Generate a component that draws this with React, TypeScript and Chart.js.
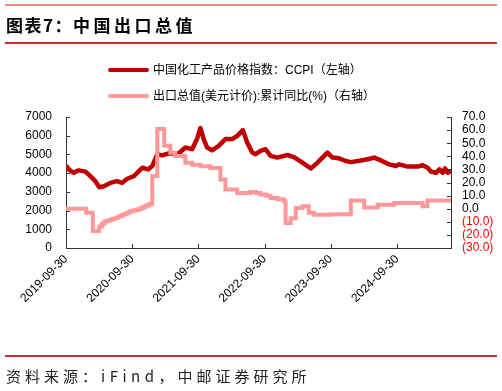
import React, { useEffect, useRef } from 'react';
import { Chart, registerables } from 'chart.js';

Chart.register(...registerables);

const START = '2019-09-30';
const xTickDates = ['2019-09-30', '2020-09-30', '2021-09-30', '2022-09-30', '2023-09-30', '2024-09-30'];

const ccpiDates = [
  '2019-09-30', '2019-10-15', '2019-11-12', '2019-12-09', '2020-01-15', '2020-02-11', '2020-03-10',
  '2020-04-01', '2020-04-26', '2020-06-01', '2020-07-08', '2020-08-05', '2020-09-02', '2020-10-09',
  '2020-11-24', '2020-12-27', '2021-01-18', '2021-02-15', '2021-03-13', '2021-04-18', '2021-06-13',
  '2021-07-20', '2021-08-26', '2021-09-22', '2021-10-11', '2021-10-29', '2021-11-17', '2021-12-14',
  '2022-01-20', '2022-02-26', '2022-04-04', '2022-05-02', '2022-06-02', '2022-06-26', '2022-07-24',
  '2022-08-11', '2022-09-08', '2022-10-05', '2022-11-02', '2022-12-09', '2023-02-03', '2023-03-11',
  '2023-04-27', '2023-06-12', '2023-07-19', '2023-09-12', '2023-10-10', '2023-11-15', '2023-12-22',
  '2024-01-19', '2024-03-14', '2024-04-20', '2024-05-27', '2024-07-03', '2024-08-18', '2024-09-24',
  '2024-10-12', '2024-11-28', '2025-01-22', '2025-02-19', '2025-03-18', '2025-04-06', '2025-05-03',
  '2025-05-22', '2025-06-10', '2025-06-22', '2025-07-07', '2025-07-25',
];
const ccpiValues = [
  4400, 4200, 4020, 4150, 4080, 3840, 3570,
  3250, 3300, 3480, 3570, 3480, 3700, 3840,
  4290, 4200, 4380, 5010, 4950, 5050, 5050,
  5370, 5280, 5820, 6410, 5820, 5370, 5220,
  5460, 5820, 5820, 5990, 6300, 5640, 5100,
  5010, 5190, 5280, 4920, 4830, 4970, 4860,
  4560, 4250, 4560, 5100, 4830, 4790, 4650,
  4590, 4680, 4740, 4830, 4680, 4470, 4380,
  4470, 4350, 4350, 4420, 4290, 4080, 4020,
  4200, 4020, 4250, 4020, 4110,
];

const exportDates = [
  '2019-09-30', '2020-01-20', '2020-02-25', '2020-03-31', '2020-04-15', '2020-04-30', '2020-05-15',
  '2020-05-31', '2020-06-15', '2020-06-30', '2020-07-15', '2020-07-31', '2020-08-15', '2020-08-31',
  '2020-09-15', '2020-09-30', '2020-10-15', '2020-10-31', '2020-11-15', '2020-11-30', '2020-12-15',
  '2020-12-31', '2021-01-18',
  '2021-02-15', '2021-03-25', '2021-04-28', '2021-05-25', '2021-07-20', '2021-08-26', '2021-10-11',
  '2021-12-05', '2022-01-29', '2022-02-26', '2022-05-02', '2022-07-14', '2022-08-15', '2022-09-08',
  '2022-10-10', '2022-11-02', '2022-12-10',
  '2023-01-15', '2023-01-24', '2023-02-21', '2023-03-21', '2023-04-27', '2023-06-01', '2023-06-28',
  '2023-10-01', '2024-01-19', '2024-04-02', '2024-06-15', '2024-09-15', '2025-02-18', '2025-03-17',
  '2025-07-25',
];
const exportValues = [
  0, -3, -17, -13.6, -11.5, -9.7, -9,
  -8.5, -7.7, -7, -6, -5, -4, -3,
  -2.2, -1.5, -1, -0.5, 0.5, 1.5, 2.5,
  3.6, 24.9,
  60.8, 48, 42.8, 40.2, 35.1, 33.5, 32.5,
  31, 22.3, 14.6, 12, 12.8, 12, 10.8,
  9.8, 8.2, 7.2,
  5.6, -11, -7.2, 0.5, 1.8, -3, -4.6,
  -4.2, 6.2, 1, 3.1, 4.4, 1.8, 6.2,
  6.2,
];

const ccpiLabel = '中国化工产品价格指数：CCPI（左轴）';
const exportLabel = '出口总值(美元计价):累计同比(%)（右轴）';

const DAY = 86400000;
const dayOf = (s: string) => (Date.parse(s) - Date.parse(START)) / DAY;
const fmtDay = (d: number) => new Date(Date.parse(START) + Math.round(d) * DAY).toISOString().slice(0, 10);

const AXIS_COLOR = '#333333';
const TICK_FONT = { family: '"Liberation Sans", Arial, sans-serif', size: 12 };

const innerTicks = {
  id: 'innerTicks',
  afterDatasetsDraw(chart: any) {
    const ctx = chart.ctx;
    const { left, right, bottom } = chart.chartArea;
    ctx.save();
    ctx.strokeStyle = AXIS_COLOR;
    ctx.lineWidth = 1;
    ctx.beginPath();
    const y = chart.scales.y;
    y.ticks.forEach((t: any) => {
      const p = Math.round(y.getPixelForValue(t.value)) + 0.5;
      ctx.moveTo(left, p);
      ctx.lineTo(left + 4, p);
    });
    const y1 = chart.scales.y1;
    y1.ticks.forEach((t: any) => {
      const p = Math.round(y1.getPixelForValue(t.value)) + 0.5;
      ctx.moveTo(right, p);
      ctx.lineTo(right - 4, p);
    });
    const x = chart.scales.x;
    x.ticks.forEach((t: any) => {
      const p = Math.round(x.getPixelForValue(t.value)) + 0.5;
      ctx.moveTo(p, bottom);
      ctx.lineTo(p, bottom - 4);
    });
    ctx.stroke();
    ctx.restore();
  },
};

function ChartCanvas() {
  const ref = useRef<HTMLCanvasElement | null>(null);
  useEffect(() => {
    if (!ref.current) return;
    const chart = new Chart(ref.current, {
      type: 'line',
      data: {
        datasets: [
          {
            label: exportLabel,
            data: exportDates.map((d, i) => ({ x: dayOf(d), y: exportValues[i] })),
            yAxisID: 'y1',
            borderColor: '#FF9999',
            backgroundColor: '#FF9999',
            borderWidth: 4,
            pointRadius: 0,
            stepped: 'before',
            order: 0,
          },
          {
            label: ccpiLabel,
            data: ccpiDates.map((d, i) => ({ x: dayOf(d), y: ccpiValues[i] })),
            yAxisID: 'y',
            borderColor: '#C00000',
            backgroundColor: '#C00000',
            borderWidth: 4.5,
            pointRadius: 0,
            tension: 0,
            borderJoinStyle: 'round',
            order: 1,
          },
        ],
      },
      options: {
        animation: false,
        responsive: false,
        maintainAspectRatio: false,
        layout: { padding: { top: 117, left: 0, right: 0, bottom: 0 } },
        plugins: { legend: { display: false }, tooltip: { enabled: false } },
        scales: {
          x: {
            type: 'linear',
            min: 0,
            max: dayOf(ccpiDates[ccpiDates.length - 1]),
            grid: { display: true, drawOnChartArea: false, drawTicks: false },
            border: { display: true, color: AXIS_COLOR, width: 1 },
            afterBuildTicks: (s: any) => {
              s.ticks = xTickDates.map((d) => ({ value: dayOf(d) }));
            },
            afterFit: (s: any) => {
              s.height = 143;
            },
            ticks: {
              autoSkip: false,
              minRotation: 45,
              maxRotation: 45,
              padding: 4,
              color: '#000',
              font: TICK_FONT,
              callback: (v: any) => fmtDay(Number(v)),
            },
          },
          y: {
            position: 'left',
            min: 0,
            max: 7000,
            grid: { display: true, drawOnChartArea: false, drawTicks: false },
            border: { display: true, color: AXIS_COLOR, width: 1 },
            afterFit: (s: any) => {
              s.width = 66;
            },
            ticks: {
              autoSkip: false,
              stepSize: 1000,
              padding: 14,
              color: '#000',
              font: TICK_FONT,
              callback: (v: any) => String(v),
            },
          },
          y1: {
            position: 'right',
            min: -30,
            max: 70,
            grid: { display: true, drawOnChartArea: false, drawTicks: false },
            border: { display: true, color: AXIS_COLOR, width: 1 },
            afterFit: (s: any) => {
              s.width = 51;
            },
            ticks: {
              autoSkip: false,
              stepSize: 10,
              padding: 11,
              font: TICK_FONT,
              color: (c: any) => (c.tick && c.tick.value < 0 ? '#FF0000' : '#000'),
              callback: (v: any) => {
                const n = Number(v);
                return n < 0 ? `(${Math.abs(n).toFixed(1)})` : n.toFixed(1);
              },
            },
          },
        },
      },
      plugins: [innerTicks],
    } as any);
    return () => chart.destroy();
  }, []);
  return (
    <canvas
      ref={ref}
      width={502}
      height={391}
      style={{ position: 'absolute', left: 0, top: 0, width: 502, height: 391 }}
    />
  );
}

const legendText: React.CSSProperties = {
  position: 'absolute',
  left: 153,
  fontFamily: '"Liberation Sans", Arial, "Noto Sans CJK SC", sans-serif',
  fontSize: 12,
  lineHeight: '14px',
  color: '#000',
  whiteSpace: 'nowrap',
};

export default function App() {
  return (
    <div
      style={{
        position: 'absolute',
        left: 0,
        top: 0,
        width: 502,
        height: 391,
        background: '#fff',
        overflow: 'hidden',
      }}
    >
      <ChartCanvas />
      <div style={{ position: 'absolute', left: 5, top: 4, width: 492, height: 2, background: '#E88A8A' }} />
      <div
        style={{
          position: 'absolute',
          left: 6,
          top: 13,
          fontFamily: '"Noto Sans CJK SC", sans-serif',
          fontWeight: 700,
          fontSize: 17,
          lineHeight: '24px',
          color: '#000',
          whiteSpace: 'nowrap',
        }}
      >
        <span style={{ letterSpacing: 1.5 }}>图表7：</span>
        <span style={{ letterSpacing: 3.5 }}>中国出口总值</span>
      </div>
      <div style={{ position: 'absolute', left: 5, top: 42, width: 492, height: 2, background: '#C83030' }} />

      <div style={{ position: 'absolute', left: 108, top: 68, width: 41, height: 4, borderRadius: 2, background: '#C00000' }} />
      <div style={{ ...legendText, top: 63 }}>{ccpiLabel}</div>
      <div style={{ position: 'absolute', left: 108, top: 94, width: 41, height: 4, borderRadius: 2, background: '#FF9999' }} />
      <div style={{ ...legendText, top: 89 }}>{exportLabel}</div>

      <div style={{ position: 'absolute', left: 5, top: 355, width: 492, height: 2, background: '#C83030' }} />
      <div
        style={{
          position: 'absolute',
          left: 6,
          top: 366,
          fontFamily: '"Noto Sans CJK SC", sans-serif',
          fontSize: 15,
          lineHeight: '20px',
          letterSpacing: 4,
          color: '#222',
          whiteSpace: 'nowrap',
        }}
      >
        资料来源：<span style={{ letterSpacing: 4.5 }}>iFind</span>，中邮证券研究所
      </div>
    </div>
  );
}
